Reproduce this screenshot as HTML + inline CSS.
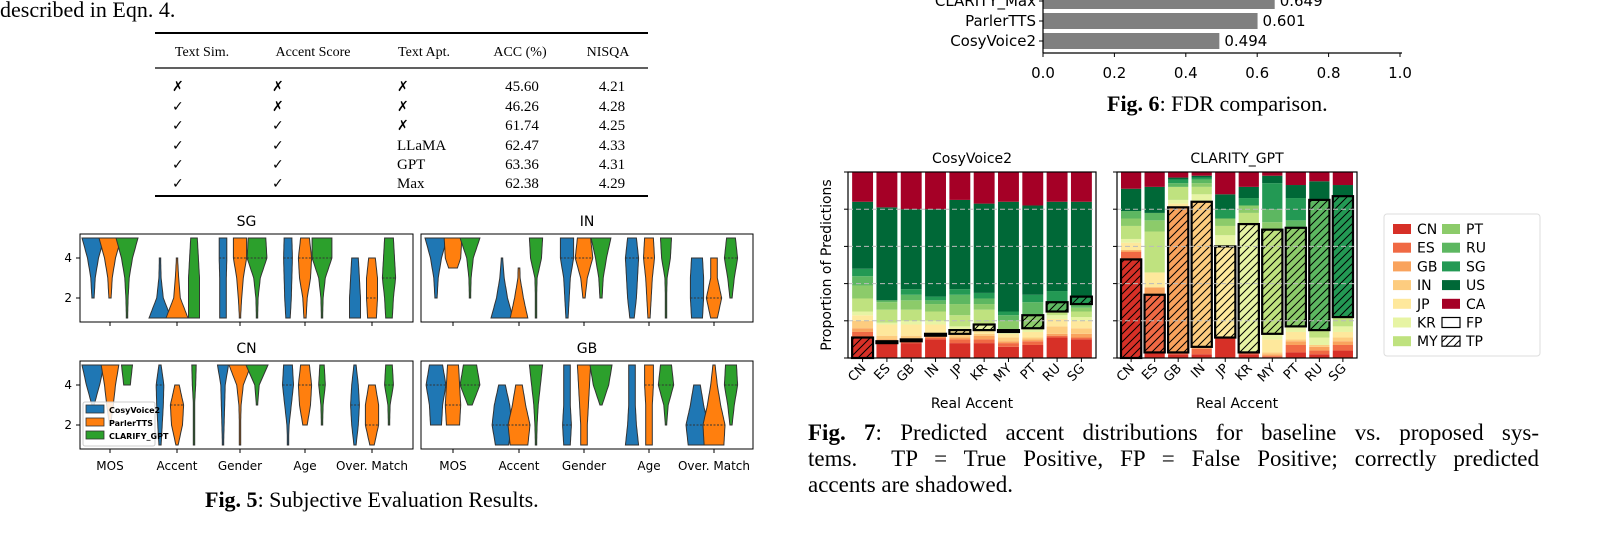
<!DOCTYPE html>
<html><head><meta charset="utf-8"><style>
html,body{margin:0;padding:0;background:#fff;}
body{position:relative;width:1605px;height:556px;overflow:hidden;}
svg{display:block;}
.serif{font-family:"Liberation Serif",serif;}
.sans{font-family:"DejaVu Sans","Liberation Sans",sans-serif;}
#cap7{position:absolute;left:808px;top:420px;width:731px;font-family:"Liberation Serif",serif;font-size:23px;line-height:26px;color:#000;}
#cap7 .j{text-align:justify;text-align-last:justify;white-space:nowrap;}
</style></head><body>
<svg id="page" width="1605" height="556" viewBox="0 0 1605 556" xmlns="http://www.w3.org/2000/svg">
<defs>
<pattern id="hatch" patternUnits="userSpaceOnUse" width="8" height="8">
<path d="M-2,10 L10,-2 M-2,2 L2,-2 M6,10 L10,6" stroke="#000" stroke-width="1"/>
</pattern>
</defs>
<text class="serif" x="0" y="17" font-size="22">described in Eqn. 4.</text>

<g id="table">
<line x1="155" y1="33" x2="648" y2="33" stroke="#000" stroke-width="2"/>
<line x1="155" y1="68" x2="648" y2="68" stroke="#000" stroke-width="1.2"/>
<line x1="155" y1="196" x2="648" y2="196" stroke="#000" stroke-width="2"/>
<g class="serif" font-size="14" text-anchor="middle">
<text x="202" y="56">Text Sim.</text><text x="313" y="56">Accent Score</text><text x="424" y="56">Text Apt.</text><text x="520" y="56">ACC (%)</text><text x="608" y="56">NISQA</text>
</g>
</g>

<g id="fdr"></g>
<text class="serif" x="1107" y="111" font-size="22"><tspan font-weight="bold">Fig. 6</tspan>: FDR comparison.</text>

<g id="violins"></g>
<text class="serif" x="205" y="507" font-size="22"><tspan font-weight="bold">Fig. 5</tspan>: Subjective Evaluation Results.</text>

<g id="stacked"></g>
</svg>
<div id="cap7">
<div class="j"><b>Fig. 7</b>: Predicted accent distributions for baseline vs. proposed sys-</div>
<div class="j">tems. &nbsp;TP = True Positive, FP = False Positive; correctly predicted</div>
<div>accents are shadowed.</div>
</div>
<script>
// ---------- Table data ----------
const tblTextSim = ['✗','✓','✓','✓','✓','✓'];
const tblAccent = ['✗','✗','✓','✓','✓','✓'];
const tblApt = ['✗','✗','✗','LLaMA','GPT','Max'];
const tblAcc = ['45.60','46.26','61.74','62.47','63.36','62.38'];
const tblNisqa = ['4.21','4.28','4.25','4.33','4.31','4.29'];

// ---------- FDR data ----------
const fdrSystems = ['CLARITY_Max','ParlerTTS','CosyVoice2'];
const fdrValues = [0.649,0.601,0.494];
const fdrTicks = ['0.0','0.2','0.4','0.6','0.8','1.0'];

// ---------- Violin data: [min,max,w@1,w@2,w@3,w@4,w@5] ----------
const violinCats = ['MOS','Accent','Gender','Age','Over. Match'];
const violinSG = [
 [2,5,0,.1,.2,.5,1],[2,5,0,.1,.2,.5,1],[1,5,.05,.1,.2,.5,1],
 [1,4,1,.3,.1,.05,0],[1,4,1,.3,.15,.05,0],[1,5,.5,.5,.5,.4,.3],
 [1,5,.3,.3,.3,.35,.35],[1,5,.05,.15,.3,.6,.6],[1,5,.05,.1,.3,.9,.8],
 [1,5,.2,.3,.35,.4,.35],[1,5,.1,.2,.5,.6,.4],[1,5,.05,.1,.3,.9,.9],
 [1,4,.5,.5,.4,.3,0],[1,4,.4,.5,.5,.3,0],[1,5,.3,.4,.6,.5,.4]];
const violinIN = [
 [2,5,0,.1,.2,.5,1],[3.5,5,0,0,.1,.7,.8],[2,5,0,.05,.1,.3,.9],
 [1,4,1,.5,.2,.05,0],[1,3.5,.8,.4,.1,.05,0],[1,5,.05,.05,.1,.5,.6],
 [1,5,.1,.2,.3,.6,.6],[2,5,0,.1,.3,.8,.6],[2,5,0,.1,.2,.5,.9],
 [1,5,.2,.4,.5,.6,.4],[1,5,.1,.2,.3,.5,.4],[1,5,.05,.05,.1,.4,.5],
 [1,4,.5,.6,.6,.5,0],[1,4,.3,.7,.3,.3,0],[2,5,0,.1,.3,.6,.4]];
const violinCN = [
 [3,5,0,0,.1,.6,1],[2,5,0,.05,.3,.5,.8],[4,5,0,0,0,.3,.5],
 [1,5,.1,.2,.3,.35,.1],[1,4,.1,.5,.6,.2,0],[1,5,.05,.05,.05,.15,.2],
 [1,5,.05,.1,.15,.2,.5],[1,5,.02,.05,.1,.3,1],[3,5,0,0,.05,.2,1],
 [1,5,.02,.1,.3,.5,.4],[2,5,0,.2,.5,.6,.4],[2,5,0,.05,.1,.3,.2],
 [1,5,.1,.3,.4,.3,.1],[1,4,.2,.6,.6,.3,0],[2,5,0,.05,.1,.4,.3]];
const violinGB = [
 [2,5,0,.5,.6,.9,.6],[2,5,0,.6,.7,.6,.5],[3,5,0,0,.2,.9,.6],
 [1,4,.6,.9,.7,.3,0],[1,4,.8,1,.6,.3,0],[1,5,.05,.1,.2,.4,.6],
 [1,5,.3,.4,.3,.3,.3],[1,5,.3,.3,.4,.5,.6],[3,5,0,0,.1,.7,1],
 [1,5,.6,.4,.3,.3,.3],[1,5,.3,.3,.3,.4,.4],[2,5,0,.05,.2,.7,.5],
 [1,4,.8,1,.6,.3,0],[1,5,.9,1,.6,.3,.1],[2,5,0,.1,.3,.6,.5]];
const violinSystems = ['CosyVoice2','ParlerTTS','CLARIFY_GPT'];

// ---------- Stacked data ----------
const accents = ['CN','ES','GB','IN','JP','KR','MY','PT','RU','SG'];
const predLabels = ['CN','ES','GB','IN','JP','KR','MY','PT','RU','SG','US','CA'];
const cosyShares = [
 [.11,.03,.02,.04,.03,.02,.07,.07,.05,.04,.36,.16],
 [.08,.01,.01,.02,.06,.01,.07,.04,.01,0,.50,.19],
 [.08,.01,.01,.02,.06,.02,.06,.05,.03,.03,.43,.20],
 [.10,.01,.01,.01,.05,.02,.05,.04,.02,.02,.47,.20],
 [.08,.02,.01,.02,.02,.02,.06,.06,.05,.03,.48,.15],
 [.08,.02,.02,.01,.02,.03,.08,.03,.03,.03,.48,.17],
 [.06,.02,.01,.02,.02,.01,.01,.05,.03,.02,.59,.16],
 [.07,.02,.01,.01,.03,.02,0,.07,.07,.04,.48,.18],
 [.11,.01,.01,.04,.04,.02,.02,0,.05,.06,.48,.16],
 [.10,.01,.02,.03,.04,.02,.03,.02,.02,.04,.51,.16]];
const clarityShares = [
 [.53,.04,.01,0,.04,.02,.07,.04,.04,0,.12,.09],
 [.03,.31,.04,0,.08,0,.22,.06,.04,0,.14,.08],
 [.02,.01,.78,0,.02,.02,.07,0,.02,.02,.01,.03],
 [.02,.03,.01,.78,0,.04,.04,.02,.02,.01,.01,.02],
 [.11,0,0,0,.49,.06,.05,.04,0,.05,.08,.12],
 [.02,.01,0,0,0,.69,.06,.04,0,.04,.06,.08],
 [0,.01,.01,.01,.07,.03,.56,.04,.07,.14,.04,.02],
 [.03,.04,.02,.01,.04,.03,0,.53,.04,.12,.07,.07],
 [.02,.02,.02,.01,0,.04,.04,0,.70,0,.10,.05],
 [.04,.03,.02,.02,.03,.03,.05,0,0,.65,.06,.07]];

const NS='http://www.w3.org/2000/svg';
function mk(tag, attrs, parent){const e=document.createElementNS(NS,tag);for(const k in attrs)e.setAttribute(k,attrs[k]);parent.appendChild(e);return e;}

// ---------- Table ----------
const tbl=document.getElementById('table');
const rowY=[86,106,125,145,164,183];
for(let i=0;i<6;i++){
  const g=mk('g',{'font-size':'15'},tbl);
  
  
  const cells=[[tblTextSim[i],172,'start'],[tblAccent[i],272,'start'],[tblApt[i],397,'start'],[tblAcc[i],522,'middle'],[tblNisqa[i],612,'middle']];
  cells.forEach(([t,x,a])=>{
    const isMark=(t==='✓'||t==='✗');
    const e=mk('text',{x:x,y:rowY[i]+5,'text-anchor':a,'font-family':isMark?'"DejaVu Sans",sans-serif':'"Liberation Serif",serif','font-size':isMark?14:15},g);
    e.textContent=t;
  });
}

// ---------- FDR chart ----------
const fdr=document.getElementById('fdr');
const fx=v=>1043+v*357;
const fdrY=[-7,13,33];
fdrValues.forEach((v,i)=>{
  const r=mk('rect',{x:fx(0),y:fdrY[i],width:fx(v)-fx(0),height:16,fill:'#808080'},fdr);
  
  
  const t=mk('text',{x:fx(v)+5,y:fdrY[i]+13,'font-size':15,class:'sans'},fdr);
  t.textContent=v.toFixed(3);
  const l=mk('text',{x:1036,y:fdrY[i]+13,'font-size':15,class:'sans','text-anchor':'end'},fdr);
  l.textContent=fdrSystems[i];
  mk('line',{x1:1039,x2:1043,y1:fdrY[i]+8,y2:fdrY[i]+8,stroke:'#000'},fdr);
});
mk('line',{x1:1043,y1:0,x2:1043,y2:53,stroke:'#000','stroke-width':1.2},fdr);
mk('line',{x1:1043,y1:53,x2:1402,y2:53,stroke:'#000','stroke-width':1.2},fdr);
fdrTicks.forEach(t=>{
  const x=fx(parseFloat(t));
  mk('line',{x1:x,x2:x,y1:53,y2:57,stroke:'#000'},fdr);
  const e=mk('text',{x:x,y:78,'font-size':15,class:'sans','text-anchor':'middle'},fdr);
  e.textContent=t;
});

// ---------- Violins ----------
const vg=document.getElementById('violins');
const vColors=['#1f77b4','#ff7f0e','#2ca02c'];
const panels=[
 {name:'SG',data:violinSG,x0:80,x1:413,top:234,cx:[110,177,240,305,372],labels:false,legend:false,ticks:true},
 {name:'IN',data:violinIN,x0:421,x1:753,top:234,cx:[453,519,584,649,714],labels:false,legend:false,ticks:false},
 {name:'CN',data:violinCN,x0:80,x1:413,top:361,cx:[110,177,240,305,372],labels:true,legend:true,ticks:true},
 {name:'GB',data:violinGB,x0:421,x1:753,top:361,cx:[453,519,584,649,714],labels:true,legend:false,ticks:false}];
panels.forEach(p=>{
  const g=mk('g',{},vg);
  
  
  const vy=v=>p.top+4+(5-v)*20;
  const t=mk('text',{x:(p.x0+p.x1)/2,y:p.top-8,'font-size':14,class:'sans','text-anchor':'middle'},g);
  t.textContent=p.name;
  p.data.forEach((d,k)=>{
    const cat=Math.floor(k/3), s=k%3;
    const cx=p.cx[cat]+(s-1)*17;
    const [mn,mx]=d; const w=d.slice(2);
    const wAt=v=>{const i=Math.min(3,Math.floor(v-1));const f=v-1-i;return w[i]*(1-f)+w[i+1]*f;};
    const L=[],R=[];
    for(let v=mn;v<=mx+1e-6;v+=0.125){const hw=Math.max(0.7,wAt(v)*11);L.push((cx-hw).toFixed(1)+','+vy(v).toFixed(1));R.unshift((cx+hw).toFixed(1)+','+vy(v).toFixed(1));}
    const poly=mk('polygon',{points:L.concat(R).join(' '),fill:vColors[s],stroke:'#333','stroke-width':1},g);
    
    
    let best=mn,bw=-1;for(let v=Math.ceil(mn);v<=mx;v++){if(wAt(v)>bw){bw=wAt(v);best=v;}}
    const hw=Math.max(0.7,wAt(best)*11);
    mk('line',{x1:cx-hw,x2:cx+hw,y1:vy(best),y2:vy(best),stroke:'#333','stroke-width':1,'stroke-dasharray':'2,1.5'},g);
  });
  mk('rect',{x:p.x0,y:p.top,width:p.x1-p.x0,height:88,fill:'none',stroke:'#000','stroke-width':1},g);
  if(p.ticks){[4,2].forEach(v=>{mk('line',{x1:p.x0-4,x2:p.x0,y1:vy(v),y2:vy(v),stroke:'#000'},g);const e=mk('text',{x:p.x0-8,y:vy(v)+4,'font-size':12,class:'sans','text-anchor':'end'},g);e.textContent=v;});}
  p.cx.forEach((c,i)=>{
    mk('line',{x1:c,x2:c,y1:p.top+88,y2:p.top+92,stroke:'#000'},g);
    if(p.labels){const e=mk('text',{x:c,y:p.top+109,'font-size':12,class:'sans','text-anchor':'middle'},g);e.textContent=violinCats[i];}
  });
  if(p.legend){
    const lg=mk('g',{},g);
    
    
    mk('rect',{x:83,y:402,width:72,height:44,fill:'#fff','fill-opacity':0.85,stroke:'#ccc',rx:2},lg);
    violinSystems.forEach((n,i)=>{
      mk('rect',{x:86,y:405+i*13,width:18,height:8,fill:vColors[i],stroke:'#333','stroke-width':0.8},lg);
      const e=mk('text',{x:109,y:413+i*13,'font-size':8,'font-weight':'bold',class:'sans'},lg);e.textContent=n;
    });
  }
});

// ---------- Stacked bars ----------
const sg=document.getElementById('stacked');
const accColors=['#d73027','#f06944','#f9a35d','#fdcc7f','#fee89c','#e7f4a4','#bfe27f','#8ccb6a','#5db761','#239954','#006837','#a50026'];
const sy=v=>358-v*186;
const panels2=[{name:'CosyVoice2',data:cosyShares,x0:848,x1:1096},{name:'CLARITY_GPT',data:clarityShares,x0:1117,x1:1357}];
panels2.forEach((p,pi)=>{
  const g=mk('g',{},sg);
  
  
  const step=(p.x1-p.x0)/10.2;
  const bx=i=>p.x0+step*0.6+i*step;
  const bw=step*0.86;
  p.data.forEach((row,i)=>{
    let acc=0;
    row.forEach((v,j)=>{
      if(v>0){const r=mk('rect',{x:bx(i)-bw/2,y:sy(acc+v),width:bw,height:v*186,fill:accColors[j]},g);
      
      }
      acc+=v;
    });
    let base=0;for(let j=0;j<i;j++)base+=row[j];
    const tp=mk('rect',{x:bx(i)-bw/2,y:sy(base+row[i]),width:bw,height:Math.max(1,row[i]*186),fill:'url(#hatch)',stroke:'#000','stroke-width':2.2},g);
    
    
  });
  [0.2,0.4,0.6,0.8].forEach(v=>mk('line',{x1:p.x0,x2:p.x1,y1:sy(v),y2:sy(v),stroke:'#bbb','stroke-dasharray':'5,3','stroke-width':1},g));
  mk('rect',{x:p.x0,y:172,width:p.x1-p.x0,height:186,fill:'none',stroke:'#000','stroke-width':1.2},g);
  [0,0.2,0.4,0.6,0.8,1].forEach(v=>mk('line',{x1:p.x0-4,x2:p.x0,y1:sy(v),y2:sy(v),stroke:'#000'},g));
  accents.forEach((a,i)=>{
    mk('line',{x1:bx(i),x2:bx(i),y1:358,y2:362,stroke:'#000'},g);
    const e=mk('text',{x:bx(i)+4,y:369,'font-size':13,class:'sans','text-anchor':'end',transform:'rotate(-45 '+(bx(i)+4)+' 369)'},g);
    e.textContent=a;
  });
  const t=mk('text',{x:(p.x0+p.x1)/2,y:163,'font-size':14,class:'sans','text-anchor':'middle'},g);t.textContent=p.name;
  const xl=mk('text',{x:(p.x0+p.x1)/2,y:408,'font-size':14,class:'sans','text-anchor':'middle'},g);xl.textContent='Real Accent';
});
const yl=mk('text',{x:831,y:265,'font-size':14,class:'sans','text-anchor':'middle',transform:'rotate(-90 831 265)'},sg);
yl.textContent='Proportion of Predictions';
// legend
const lg=mk('g',{},sg);


mk('rect',{x:1384,y:214,width:156,height:142,fill:'#fff',stroke:'#ddd',rx:3},lg);
const legItems=predLabels.concat(['FP','TP']);
legItems.forEach((n,k)=>{
  const col=k<7?0:1,row=k<7?k:k-7;
  const x=1393+col*49,y=229+row*18.7;
  let fill=k<12?accColors[k]:(k===13?'url(#hatch)':'#fff');
  mk('rect',{x:x,y:y-5,width:18,height:10,fill:fill,stroke:k>=12?'#000':'none','stroke-width':1.2},lg);
  const e=mk('text',{x:x+24,y:y+5,'font-size':14,class:'sans'},lg);e.textContent=n;
});
</script>
</body></html>
